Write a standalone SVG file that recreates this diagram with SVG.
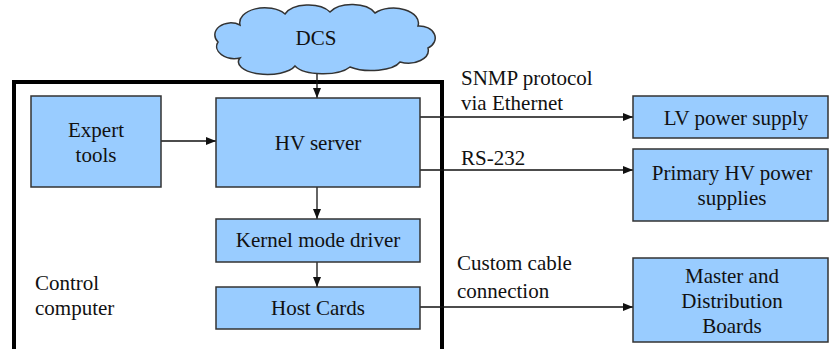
<svg xmlns="http://www.w3.org/2000/svg" width="829" height="349" viewBox="0 0 829 349">
  <defs>
    <marker id="arrow" viewBox="0 0 10 8" refX="10" refY="4" markerWidth="10" markerHeight="8" markerUnits="userSpaceOnUse" orient="auto">
      <path d="M0,0 L10,4 L0,8 Z" fill="#111"/>
    </marker>
  </defs>
  <style>
    .box { fill: #99ccff; stroke: #333; stroke-width: 1.5; }
    .lbl { font-family: "Liberation Serif", Tinos, "Nimbus Roman", "Nimbus Roman No9 L", "Times New Roman", Times, "Noto Serif", "DejaVu Serif", FreeSerif, serif; font-size: 21px; fill: #111; }
    .c { text-anchor: middle; }
    .conn { stroke: #111; stroke-width: 1.3; fill: none; marker-end: url(#arrow); }
  </style>
  <rect width="829" height="349" fill="#fff"/>

  <!-- control computer frame -->
  <g id="control-computer">
    <path d="M14,360 V82 H442 V360" fill="none" stroke="#000" stroke-width="4"/>
    <text class="lbl" x="35" y="290">Control</text>
    <text class="lbl" x="35" y="315">computer</text>
  </g>

  <g id="connectors">
    <line class="conn" x1="317" y1="68" x2="317" y2="98"/>
    <line class="conn" x1="161" y1="141" x2="216" y2="141"/>
    <line class="conn" x1="317" y1="187" x2="317" y2="219"/>
    <line class="conn" x1="317" y1="262" x2="317" y2="287"/>
    <line class="conn" x1="420" y1="117" x2="633" y2="117"/>
    <line class="conn" x1="420" y1="170" x2="633" y2="170"/>
    <line class="conn" x1="420" y1="307" x2="633" y2="307"/>
    <text class="lbl" x="461" y="85">SNMP protocol</text>
    <text class="lbl" x="461" y="110">via Ethernet</text>
    <text class="lbl" x="461" y="165">RS-232</text>
    <text class="lbl" x="457" y="270">Custom cable</text>
    <text class="lbl" x="457" y="298">connection</text>
  </g>

  <g id="dcs">
    <path class="box" d="M240,58 A18,12 0 0 1 218,42 A16,12 0 0 1 240,25 A25,15 0 0 1 285,14 A25,14 0 0 1 330,12 A25,14 0 0 1 375,13 A25,15 0 0 1 418,26 A16,12 0 0 1 428,48 A20,13 0 0 1 400,62 A30,12 0 0 1 350,67 A30,12 0 0 1 295,66 A28,12 0 0 1 240,58 Z"/>
    <text class="lbl c" x="316" y="45">DCS</text>
  </g>

  <g id="expert-tools">
    <rect class="box" x="31" y="96" width="130" height="91"/>
    <text class="lbl c" x="96" y="137">Expert</text>
    <text class="lbl c" x="96" y="162">tools</text>
  </g>

  <g id="hv-server">
    <rect class="box" x="216" y="98" width="204" height="89"/>
    <text class="lbl c" x="318" y="150">HV server</text>
  </g>

  <g id="kernel-driver">
    <rect class="box" x="216" y="219" width="204" height="43"/>
    <text class="lbl c" x="318" y="247">Kernel mode driver</text>
  </g>

  <g id="host-cards">
    <rect class="box" x="216" y="287" width="204" height="42"/>
    <text class="lbl c" x="318" y="315">Host Cards</text>
  </g>

  <g id="lv-power-supply">
    <rect class="box" x="633" y="96" width="195" height="42"/>
    <text class="lbl c" x="736" y="125">LV power supply</text>
  </g>

  <g id="primary-hv">
    <rect class="box" x="633" y="149" width="195" height="72"/>
    <text class="lbl c" x="732" y="180">Primary HV power</text>
    <text class="lbl c" x="732" y="205">supplies</text>
  </g>

  <g id="master-distribution">
    <rect class="box" x="633" y="258" width="195" height="84"/>
    <text class="lbl c" x="732" y="283">Master and</text>
    <text class="lbl c" x="732" y="308">Distribution</text>
    <text class="lbl c" x="732" y="333">Boards</text>
  </g>
</svg>
